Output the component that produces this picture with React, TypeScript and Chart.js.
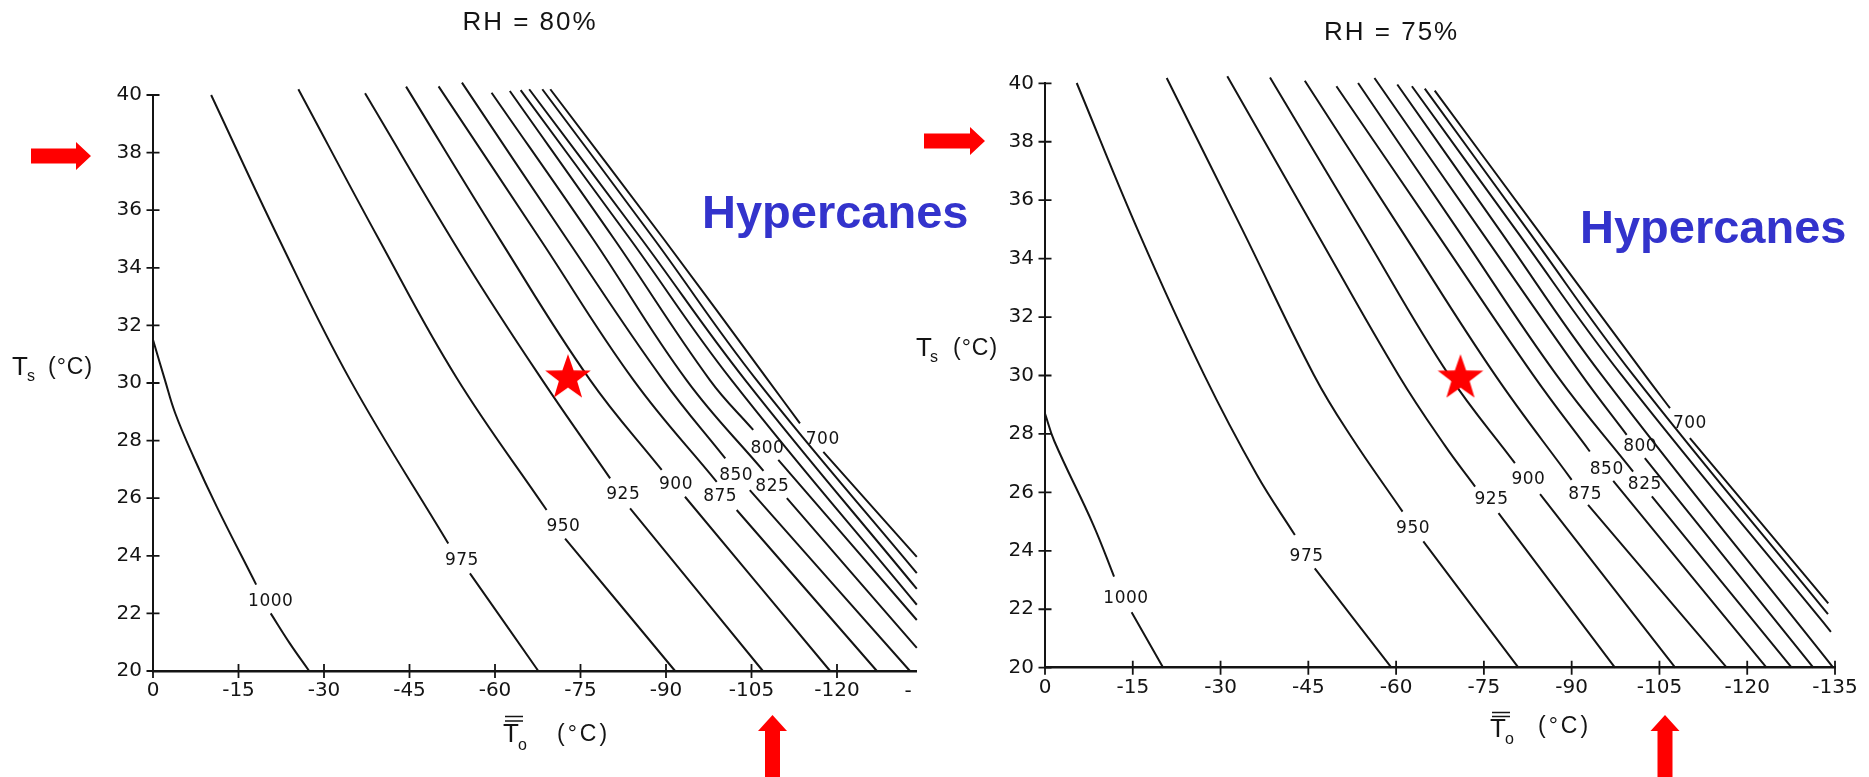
import React, { useEffect, useRef } from 'react';
import { Chart, registerables } from 'chart.js';

Chart.register(...registerables);

type Pt = [number, number] | null;
type Label = [string, number, number];

// ---------- RH = 80% (left panel): points are [T0 (°C), Ts (°C)]; null = break where the contour label sits
const rh80_1000: Pt[] = [[0, 31.5], [-2.1, 30.1], [-3.9, 28.95], [-7.1, 27.44], [-11.2, 25.7], [-18.1, 23.0], null, [-20.65, 22.0], [-24.0, 20.96], [-27.4, 20.0]];
const rh80_975: Pt[] = [[-10.2, 40.0], [-22.1, 35.0], [-34.6, 30.1], [-51.8, 24.43], null, [-55.6, 23.39], [-67.6, 20.0]];
const rh80_950: Pt[] = [[-25.5, 40.2], [-39.6, 35.0], [-53.2, 30.2], [-69.05, 25.59], null, [-72.3, 24.6], [-91.6, 20.0]];
const rh80_925: Pt[] = [[-37.2, 40.06], [-55.0, 34.16], [-68.3, 30.1], [-80.2, 26.69], null, [-83.7, 25.65], [-107.0, 20.0]];
const rh80_900: Pt[] = [[-44.4, 40.29], [-60.9, 34.97], [-76.7, 30.1], [-89.25, 26.98], null, [-93.33, 26.05], [-118.8, 20.0]];
const rh80_875: Pt[] = [[-50.1, 40.3], [-67.9, 35.0], [-84.3, 30.1], [-98.9, 26.57], null, [-102.4, 25.59], [-127.0, 20.0]];
const rh80_850: Pt[] = [[-54.2, 40.43], [-72.6, 35.0], [-89.5, 30.1], [-100.4, 27.38], null, [-104.7, 26.28], [-132.8, 20.0]];
const rh80_825: Pt[] = [[-59.4, 40.08], [-77.2, 35.0], [-93.6, 30.1], [-107.1, 26.95], null, [-111.2, 26.0], [-134.0, 20.8]];
const rh80_800: Pt[] = [[-62.6, 40.14], [-80.9, 35.0], [-97.7, 30.1], [-105.3, 28.37], null, [-109.7, 27.33], [-134.0, 21.77]];
const rh80_775: Pt[] = [[-64.5, 40.17], [-83.7, 35.0], [-101.5, 30.1], [-134.0, 22.3]];
const rh80_750: Pt[] = [[-66.0, 40.2], [-85.7, 35.0], [-103.9, 30.1], [-134.0, 22.85]];
const rh80_725: Pt[] = [[-68.3, 40.2], [-87.9, 35.0], [-105.9, 30.1], [-134.0, 23.4]];
const rh80_700: Pt[] = [[-69.7, 40.2], [-89.6, 35.0], [-107.9, 30.1], [-113.5, 28.6], null, [-117.6, 27.61], [-134.0, 23.96]];
const rh80Curves: Pt[][] = [rh80_1000, rh80_975, rh80_950, rh80_925, rh80_900, rh80_875, rh80_850, rh80_825, rh80_800, rh80_775, rh80_750, rh80_725, rh80_700];
const rh80Labels: Label[] = [['1000', -20.65, 22.41], ['975', -54.2, 23.85], ['950', -72.0, 25.01], ['925', -82.5, 26.11], ['900', -91.75, 26.48], ['875', -99.5, 26.05], ['850', -102.3, 26.8], ['825', -108.65, 26.4], ['800', -107.8, 27.73], ['700', -117.5, 28.02]];
const rh80Star: [number, number] = [-72.8, 30.17];

// ---------- RH = 75% (right panel)
const rh75_1000: Pt[] = [[0, 28.7], [-1.6, 27.75], [-8.25, 24.89], [-11.8, 23.12], null, [-14.8, 21.9], [-20.2, 20.0]];
const rh75_975: Pt[] = [[-5.42, 40.01], [-16.2, 34.82], [-27.2, 30.02], [-36.2, 26.6], [-42.7, 24.54], null, [-46.1, 23.4], [-59.2, 20.0]];
const rh75_950: Pt[] = [[-20.8, 40.18], [-33.7, 35.0], [-45.95, 30.02], [-52.1, 27.97], [-61.1, 25.34], null, [-64.65, 24.32], [-80.9, 20.0]];
const rh75_925: Pt[] = [[-31.15, 40.24], [-46.1, 35.0], [-60.4, 30.02], [-68.35, 27.6], [-73.5, 26.2], null, [-77.5, 25.29], [-97.4, 20.0]];
const rh75_900: Pt[] = [[-38.45, 40.2], [-54.0, 35.0], [-69.0, 30.02], [-80.3, 27.0], null, [-84.6, 25.94], [-107.7, 20.0]];
const rh75_875: Pt[] = [[-44.4, 40.09], [-60.8, 35.0], [-76.9, 30.02], [-90.0, 26.43], null, [-92.8, 25.57], [-116.5, 20.0]];
const rh75_850: Pt[] = [[-49.8, 39.9], [-66.5, 35.0], [-83.4, 30.02], [-93.1, 27.4], null, [-97.1, 26.39], [-123.3, 20.0]];
const rh75_825: Pt[] = [[-53.5, 40.01], [-70.5, 35.0], [-87.4, 30.02], [-100.5, 26.71], null, [-103.7, 25.86], [-127.6, 20.0]];
const rh75_800: Pt[] = [[-56.3, 40.18], [-74.3, 35.0], [-91.7, 30.02], [-99.4, 27.97], null, [-102.5, 27.17], [-131.3, 20.0]];
const rh75_775: Pt[] = [[-60.2, 39.96], [-77.6, 35.0], [-95.1, 30.02], [-134.7, 20.0]];
const rh75_750: Pt[] = [[-62.7, 39.9], [-80.4, 35.0], [-98.5, 30.02], [-134.3, 21.23]];
const rh75_725: Pt[] = [[-64.9, 39.82], [-82.4, 35.0], [-100.5, 30.02], [-133.8, 21.83]];
const rh75_700: Pt[] = [[-66.6, 39.75], [-84.1, 35.0], [-102.5, 30.02], [-106.8, 28.88], null, [-110.2, 27.86], [-133.85, 22.2]];
const rh75Curves: Pt[][] = [rh75_1000, rh75_975, rh75_950, rh75_925, rh75_900, rh75_875, rh75_850, rh75_825, rh75_800, rh75_775, rh75_750, rh75_725, rh75_700];
const rh75Labels: Label[] = [['1000', -13.84, 22.38], ['975', -44.7, 23.8], ['950', -62.9, 24.77], ['925', -76.3, 25.74], ['900', -82.6, 26.43], ['875', -92.3, 25.91], ['850', -96.0, 26.79], ['825', -102.5, 26.26], ['800', -101.7, 27.57], ['700', -110.2, 28.34]];
const rh75Star: [number, number] = [-71.0, 29.91];

// ---------- tick values
const xTicksLeft = [0, -15, -30, -45, -60, -75, -90, -105, -120];
const xTicksRight = [0, -15, -30, -45, -60, -75, -90, -105, -120, -135];
const yTicks = [20, 22, 24, 26, 28, 30, 32, 34, 36, 38, 40];

// ---------- layout / style
const PAGE_H = 777;
const Y_AXIS_W = 100;
const X_AXIS_H = 50;
const INK = '#141414';
const RED = '#ff0000';
const BLUE = '#3333cc';

interface Deco {
  title: { text: string; cx: number; base: number };
  hyper: { x: number; base: number };
  yTitle: { tx: number; base: number; sx: number; sbase: number; px: number };
  xTitle: { tx: number; base: number; bx1: number; bx2: number; by1: number; by2: number; sx: number; sbase: number; px: number; pbase: number };
  hArrow: { x0: number; x1: number; yc: number };
  vArrow: { xc: number; y0: number; y1: number };
  extras: { text: string; x: number; y: number }[];
}

interface PanelCfg {
  ox: number;
  width: number;
  area: { left: number; top: number; right: number; bottom: number };
  xMin: number;
  xTicks: number[];
  curves: Pt[][];
  labels: Label[];
  star: [number, number];
  deco: Deco;
}

const leftPanel: PanelCfg = {
  ox: 0,
  width: 1000,
  area: { left: 153, top: 95, right: 916.8, bottom: 671 },
  xMin: -134,
  xTicks: xTicksLeft,
  curves: rh80Curves,
  labels: rh80Labels,
  star: rh80Star,
  deco: {
    title: { text: 'RH = 80%', cx: 530, base: 30 },
    hyper: { x: 702, base: 228 },
    yTitle: { tx: 12, base: 375, sx: 27, sbase: 381, px: 48 },
    xTitle: { tx: 503, base: 742, bx1: 505, bx2: 523, by1: 716.5, by2: 721, sx: 518, sbase: 750, px: 557, pbase: 741 },
    hArrow: { x0: 31, x1: 91, yc: 156 },
    vArrow: { xc: 772.5, y0: 715, y1: 777 },
    extras: [{ text: '-', x: 908, y: 692 }],
  },
};

const rightPanel: PanelCfg = {
  ox: 900,
  width: 969,
  area: { left: 1045, top: 83.3, right: 1835, bottom: 667.7 },
  xMin: -135,
  xTicks: xTicksRight,
  curves: rh75Curves,
  labels: rh75Labels,
  star: rh75Star,
  deco: {
    title: { text: 'RH = 75%', cx: 1391.6, base: 40 },
    hyper: { x: 1580, base: 243.3 },
    yTitle: { tx: 916, base: 356, sx: 930, sbase: 362, px: 953 },
    xTitle: { tx: 1490, base: 737, bx1: 1492, bx2: 1510, by1: 712.5, by2: 716.5, sx: 1505, sbase: 744, px: 1538, pbase: 733 },
    hArrow: { x0: 924, x1: 985, yc: 141 },
    vArrow: { xc: 1665, y0: 715, y1: 777 },
    extras: [],
  },
};

function makeStar(R: number): HTMLCanvasElement {
  const c = document.createElement('canvas');
  const s = Math.ceil(2 * R + 4);
  c.width = s;
  c.height = s;
  const g = c.getContext('2d')!;
  g.fillStyle = RED;
  g.beginPath();
  for (let i = 0; i < 10; i++) {
    const r = i % 2 === 0 ? R : R * 0.4;
    const a = -Math.PI / 2 + (i * Math.PI) / 5;
    const px = s / 2 + r * Math.cos(a);
    const py = s / 2 + r * Math.sin(a);
    if (i === 0) g.moveTo(px, py);
    else g.lineTo(px, py);
  }
  g.closePath();
  g.fill();
  return c;
}

function text(ctx: CanvasRenderingContext2D, s: string, x: number, y: number, font: string, align: CanvasTextAlign = 'left', spacing = 0, base: CanvasTextBaseline = 'alphabetic') {
  ctx.save();
  ctx.font = font;
  ctx.textAlign = align;
  ctx.textBaseline = base;
  (ctx as any).letterSpacing = spacing + 'px';
  ctx.fillText(s, x, y);
  ctx.restore();
}

const decoPlugin = {
  id: 'deco',
  afterDraw(chart: any, _args: any, o: any) {
    const ctx = chart.ctx as CanvasRenderingContext2D;
    const xs = chart.scales.x;
    const ys = chart.scales.y;
    const d: Deco = o.deco;
    const ox: number = o.ox;
    ctx.save();
    // crossing tick marks
    ctx.strokeStyle = INK;
    ctx.lineWidth = 1.8;
    ctx.beginPath();
    for (const t of ys.ticks) {
      const p = ys.getPixelForValue(t.value);
      ctx.moveTo(xs.left - 6.5, p);
      ctx.lineTo(xs.left + 6.5, p);
    }
    for (const t of xs.ticks) {
      const p = xs.getPixelForValue(t.value);
      ctx.moveTo(p, ys.bottom - 7);
      ctx.lineTo(p, ys.bottom + 7);
    }
    ctx.stroke();

    ctx.fillStyle = INK;
    // contour labels
    for (const [s, x, y] of o.labels as Label[]) {
      text(ctx, s, xs.getPixelForValue(x), ys.getPixelForValue(y), '17px "DejaVu Sans"', 'center', 0.5, 'middle');
    }
    // title
    text(ctx, d.title.text, d.title.cx - ox, d.title.base, '26px "Liberation Sans"', 'center', 2);
    // y title  T_s (°C)
    text(ctx, 'T', d.yTitle.tx - ox, d.yTitle.base, '26px "Liberation Sans"');
    text(ctx, 's', d.yTitle.sx - ox, d.yTitle.sbase, '16px "Liberation Sans"');
    text(ctx, '(°C)', d.yTitle.px - ox, d.yTitle.base - 1, '23px "Liberation Sans"', 'left', 1);
    // x title  T̄o (°C)
    const xt = d.xTitle;
    text(ctx, 'T', xt.tx - ox, xt.base, '26px "Liberation Sans"');
    ctx.strokeStyle = INK;
    ctx.lineWidth = 1.6;
    ctx.beginPath();
    ctx.moveTo(xt.bx1 - ox, xt.by1);
    ctx.lineTo(xt.bx2 - ox, xt.by1);
    ctx.moveTo(xt.bx1 - ox, xt.by2);
    ctx.lineTo(xt.bx2 - ox, xt.by2);
    ctx.stroke();
    text(ctx, 'o', xt.sx - ox, xt.sbase, '16px "Liberation Sans"');
    text(ctx, '(°C)', xt.px - ox, xt.pbase, '23px "Liberation Sans"', 'left', 3);
    for (const e of d.extras) text(ctx, e.text, e.x - ox, e.y, '20px "DejaVu Sans"', 'center', 0, 'middle');

    // Hypercanes
    ctx.fillStyle = BLUE;
    text(ctx, 'Hypercanes', d.hyper.x - ox, d.hyper.base, 'bold 47px "Liberation Sans"');

    // red arrows
    ctx.fillStyle = RED;
    const h = d.hArrow;
    ctx.beginPath();
    ctx.moveTo(h.x0 - ox, h.yc - 7.5);
    ctx.lineTo(h.x1 - 15 - ox, h.yc - 7.5);
    ctx.lineTo(h.x1 - 15 - ox, h.yc - 14);
    ctx.lineTo(h.x1 - ox, h.yc);
    ctx.lineTo(h.x1 - 15 - ox, h.yc + 14);
    ctx.lineTo(h.x1 - 15 - ox, h.yc + 7.5);
    ctx.lineTo(h.x0 - ox, h.yc + 7.5);
    ctx.closePath();
    ctx.fill();
    const v = d.vArrow;
    const vx = v.xc - ox;
    ctx.beginPath();
    ctx.moveTo(vx, v.y0);
    ctx.lineTo(vx + 14.5, v.y0 + 16);
    ctx.lineTo(vx + 7.5, v.y0 + 16);
    ctx.lineTo(vx + 7.5, v.y1);
    ctx.lineTo(vx - 7.5, v.y1);
    ctx.lineTo(vx - 7.5, v.y0 + 16);
    ctx.lineTo(vx - 14.5, v.y0 + 16);
    ctx.closePath();
    ctx.fill();
    ctx.restore();
  },
};

function toData(c: Pt[]) {
  let lastX = 0;
  return c.map((p) => {
    if (p) {
      lastX = p[0];
      return { x: p[0], y: p[1] };
    }
    return { x: lastX, y: null as any };
  });
}

function buildConfig(cfg: PanelCfg): any {
  const a = cfg.area;
  const datasets: any[] = cfg.curves.map((c) => ({
    data: toData(c),
    borderColor: INK,
    borderWidth: 2,
    pointRadius: 0,
    fill: false,
    spanGaps: false,
    tension: 0.4,
    capBezierPoints: false,
    clip: { left: 2, right: 2, bottom: 2, top: false },
  }));
  datasets.push({
    data: [{ x: cfg.star[0], y: cfg.star[1] }],
    showLine: false,
    pointStyle: makeStar(24),
    pointRadius: 10,
    order: -1,
    clip: false,
  });
  const tickFont = { family: '"DejaVu Sans"', size: 20 };
  return {
    type: 'line',
    data: { datasets },
    options: {
      animation: false,
      responsive: false,
      maintainAspectRatio: false,
      devicePixelRatio: 1,
      events: [],
      layout: {
        padding: {
          left: a.left - cfg.ox - Y_AXIS_W,
          right: cfg.width - (a.right - cfg.ox),
          top: a.top,
          bottom: PAGE_H - a.bottom - X_AXIS_H,
        },
      },
      plugins: {
        legend: { display: false },
        tooltip: { enabled: false },
        title: { display: false },
        deco: { ox: cfg.ox, deco: cfg.deco, labels: cfg.labels },
      },
      scales: {
        x: {
          type: 'linear',
          min: cfg.xMin,
          max: 0,
          reverse: true,
          afterBuildTicks: (s: any) => {
            s.ticks = cfg.xTicks.map((v) => ({ value: v }));
          },
          afterFit: (s: any) => {
            s.height = X_AXIS_H;
          },
          ticks: { color: INK, font: tickFont, padding: 8, maxRotation: 0, autoSkip: false, callback: (v: any) => String(v) },
          grid: { drawOnChartArea: false, drawTicks: false },
          border: { display: true, color: INK, width: 2.5 },
        },
        y: {
          type: 'linear',
          min: 20,
          max: 40,
          afterBuildTicks: (s: any) => {
            s.ticks = yTicks.map((v) => ({ value: v }));
          },
          afterFit: (s: any) => {
            s.width = Y_AXIS_W;
          },
          ticks: { color: INK, font: tickFont, padding: 11, autoSkip: false, callback: (v: any) => String(v) },
          grid: { drawOnChartArea: false, drawTicks: false },
          border: { display: true, color: INK, width: 2 },
        },
      },
    },
    plugins: [decoPlugin],
  };
}

function Panel({ cfg }: { cfg: PanelCfg }) {
  const ref = useRef<HTMLCanvasElement>(null);
  useEffect(() => {
    const chart = new Chart(ref.current!, buildConfig(cfg));
    return () => chart.destroy();
  }, [cfg]);
  return (
    <canvas
      ref={ref}
      width={cfg.width}
      height={PAGE_H}
      style={{ position: 'absolute', left: cfg.ox, top: 0, width: cfg.width, height: PAGE_H }}
    />
  );
}

export default function App() {
  return (
    <div style={{ position: 'absolute', left: 0, top: 0, width: 1869, height: PAGE_H, background: '#fff', overflow: 'hidden' }}>
      <Panel cfg={leftPanel} />
      <Panel cfg={rightPanel} />
    </div>
  );
}
